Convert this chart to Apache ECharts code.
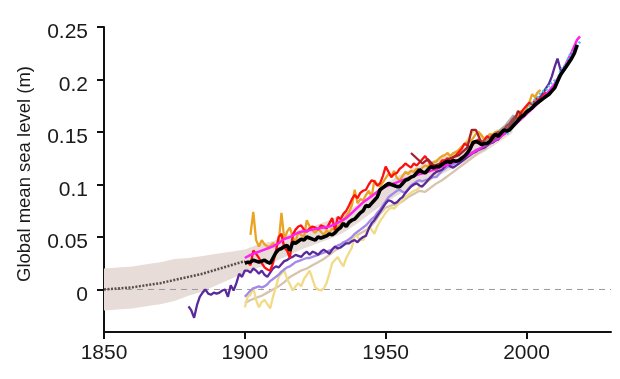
<!DOCTYPE html>
<html>
<head>
<meta charset="utf-8">
<script src="https://cdn.jsdelivr.net/npm/echarts@6/dist/echarts.min.js"></script>
<style>
html,body{margin:0;padding:0;background:#fff;}
#chart{width:620px;height:379px;}
</style>
</head>
<body>
<div id="chart"></div>
<script>
// ---------- DATA ----------
const xTicks = [1850, 1900, 1950, 2000];
const yTicks = [0, 0.05, 0.1, 0.15, 0.2, 0.25];
const yTitle = 'Global mean sea level (m)';

// uncertainty band (years, lower, upper)
const bandYears = [1850,1855,1860,1865,1870,1875,1880,1885,1890,1895,1900,1905,1910,1915,1920,1925,1930,1935,1940,1945,1950,1955,1960,1965,1970,1975,1980,1985,1990,1995];
const bandLower = [-0.020,-0.019,-0.018,-0.016,-0.014,-0.011,-0.006,-0.002,0.004,0.010,0.016,0.021,0.026,0.032,0.038,0.043,0.048,0.054,0.063,0.073,0.083,0.091,0.098,0.105,0.110,0.117,0.124,0.131,0.140,0.149];
const bandUpper = [0.020,0.021,0.022,0.024,0.026,0.029,0.030,0.032,0.034,0.036,0.038,0.043,0.046,0.052,0.058,0.061,0.066,0.072,0.081,0.091,0.101,0.109,0.116,0.121,0.126,0.131,0.138,0.145,0.152,0.161];

// dotted central estimate before 1900
const dotYears = [1850,1855,1860,1865,1870,1875,1880,1885,1890,1895,1900];
const dotVals  = [0.000,0.001,0.002,0.004,0.006,0.009,0.012,0.015,0.019,0.023,0.027];

const zeroYears = [1850, 2030];
const zeroVals = [0, 0];

const blackYears = [];
for (let y = 1900; y <= 2018; y++) blackYears.push(y);
const blackVals = [.025,.026,.026,.028,.027,.026,.027,.028,.026,.025,.030,.035,.038,.039,.041,.042,.037,.045,.044,.046,.048,.047,.050,.049,.048,.047,.050,.049,.050,.051,.053,.052,.054,.057,.059,.063,.060,.064,.066,.067,.070,.073,.075,.080,.079,.082,.085,.088,.095,.097,.099,.101,.100,.099,.098,.098,.101,.104,.105,.107,.108,.111,.114,.112,.111,.114,.117,.116,.117,.117,.119,.121,.122,.121,.123,.122,.123,.125,.127,.130,.134,.140,.141,.140,.138,.139,.139,.141,.145,.148,.146,.149,.152,.151,.152,.155,.158,.161,.164,.166,.169,.171,.173,.176,.178,.180,.182,.184,.186,.189,.192,.198,.204,.208,.212,.216,.220,.225,.233];

const magentaYears = [1900,1902,1904,1906,1908,1910,1912,1914,1916,1918,1920,1922,1924,1926,1928,1930,1932,1934,1936,1938,1940,1942,1944,1946,1948,1950,1952,1954,1956,1958,1960,1962,1964,1966,1968,1970,1972,1974,1976,1978,1980,1982,1984,1986,1988,1990,1992,1994,1996,1998,2000,2002,2004,2006,2008,2010,2012,2014,2016,2018,2019];
const magentaVals = [.030,.033,.035,.037,.039,.041,.044,.048,.050,.053,.055,.056,.057,.058,.059,.060,.062,.065,.068,.073,.078,.083,.087,.091,.095,.098,.100,.102,.104,.106,.108,.110,.111,.113,.115,.117,.119,.121,.123,.126,.129,.132,.135,.138,.141,.144,.148,.152,.157,.162,.167,.172,.177,.183,.189,.196,.205,.215,.226,.238,.241];

const redYears = [];
for (let y = 1901; y <= 2008; y++) redYears.push(y);
const redVals = [.026,.023,.037,.034,.030,.025,.021,.019,.018,.025,.036,.050,.053,.040,.037,.030,.052,.057,.060,.061,.057,.055,.058,.060,.059,.057,.061,.060,.058,.063,.068,.057,.069,.067,.072,.075,.080,.086,.090,.087,.092,.094,.095,.100,.104,.103,.099,.101,.108,.117,.112,.107,.110,.111,.115,.117,.120,.118,.116,.120,.118,.121,.124,.127,.123,.119,.116,.114,.119,.123,.123,.125,.122,.126,.128,.131,.134,.139,.137,.135,.138,.141,.143,.140,.142,.146,.144,.147,.148,.150,.147,.152,.156,.158,.162,.165,.162,.168,.172,.175,.178,.176,.180,.183,.181,.185,.188];

const orangeYears = [];
for (let y = 1902; y <= 2005; y++) orangeYears.push(y);
const orangeVals = [.052,.074,.047,.041,.047,.043,.041,.041,.044,.042,.044,.073,.048,.055,.059,.050,.045,.055,.052,.050,.066,.060,.056,.054,.058,.055,.052,.056,.054,.058,.056,.060,.062,.066,.070,.074,.080,.095,.082,.086,.085,.090,.094,.088,.104,.100,.098,.102,.106,.110,.108,.113,.106,.104,.108,.112,.110,.113,.112,.115,.113,.116,.118,.117,.120,.121,.122,.125,.127,.128,.130,.127,.130,.131,.133,.136,.138,.140,.141,.144,.148,.150,.147,.143,.145,.148,.147,.150,.149,.151,.149,.153,.157,.159,.162,.166,.170,.168,.172,.178,.186,.183,.188,.190];

const purpleYears = [];
for (let y = 1880; y <= 2013; y++) purpleYears.push(y);
const purpleVals = [-.016,-.020,-.027,-.015,-.007,-.003,.000,-.004,-.005,-.003,-.004,-.003,-.001,.000,-.007,.004,-.001,.006,.015,.012,.018,.018,.016,.020,.018,.015,.018,.014,.012,.016,.020,.022,.021,.024,.027,.028,.030,.031,.033,.032,.031,.034,.036,.033,.036,.035,.033,.036,.038,.036,.034,.038,.041,.039,.040,.042,.044,.044,.046,.047,.045,.048,.050,.051,.058,.063,.066,.070,.074,.078,.082,.085,.084,.082,.083,.086,.088,.092,.095,.098,.100,.101,.099,.098,.101,.104,.107,.110,.112,.113,.114,.117,.120,.117,.116,.118,.120,.122,.124,.126,.128,.130,.131,.133,.134,.135,.137,.139,.140,.142,.143,.146,.148,.150,.152,.155,.158,.161,.164,.166,.168,.171,.173,.176,.180,.184,.188,.192,.196,.203,.212,.220,.210,.206];

const lavenderYears = [];
for (let y = 1900; y <= 1990; y++) lavenderYears.push(y);
const lavenderVals = [-.007,-.004,-.001,.001,.002,.003,.002,.003,.005,.008,.010,.012,.014,.017,.019,.021,.022,.024,.026,.027,.028,.029,.030,.030,.031,.032,.033,.034,.035,.036,.037,.038,.040,.042,.043,.045,.046,.048,.050,.053,.055,.057,.059,.061,.064,.067,.069,.073,.076,.080,.084,.088,.090,.092,.094,.095,.093,.092,.096,.099,.101,.103,.104,.103,.104,.105,.106,.107,.107,.110,.113,.115,.117,.118,.119,.121,.122,.124,.126,.128,.130,.131,.133,.134,.135,.136,.137,.139,.140,.142,.143];

const yellowYears = [];
for (let y = 1900; y <= 1990; y++) yellowYears.push(y);
const yellowVals = [-.017,-.007,-.005,.002,-.010,-.017,-.012,-.010,-.014,-.018,-.007,.002,.012,.015,.018,.010,.005,-.001,.003,.006,.003,.010,.014,.018,.010,.002,.000,-.001,.001,.006,.015,.025,.028,.031,.026,.022,.030,.035,.040,.053,.050,.047,.047,.053,.060,.057,.053,.060,.065,.069,.073,.076,.078,.077,.080,.083,.085,.088,.090,.092,.094,.095,.097,.099,.101,.103,.105,.108,.112,.115,.118,.121,.124,.126,.128,.131,.133,.136,.139,.142,.146,.150,.152,.149,.146,.144,.143,.146,.148,.150,.152];

const tanYears = [1900,1902,1904,1906,1908,1910,1912,1914,1916,1918,1920,1922,1924,1926,1928,1930,1932,1934,1936,1938,1940,1942,1944,1946,1948,1950,1952,1954,1956,1958,1960,1962,1964,1966,1968,1970,1972,1974,1976,1978,1980,1982,1984,1986];
const tanVals = [-.013,-.010,-.008,-.006,-.003,.000,.003,.007,.012,.015,.018,.020,.023,.026,.029,.033,.037,.041,.045,.049,.052,.055,.058,.064,.072,.078,.080,.081,.084,.088,.091,.094,.093,.097,.101,.104,.108,.112,.116,.120,.124,.128,.132,.135];

const maroonYears = [1959,1961,1963,1965,1967,1970,1973,1976,1979,1980.5,1982,1984,1986,1988,1990,1992,1994,1996,1997,1999];
const maroonVals = [.130,.125,.120,.124,.118,.120,.125,.128,.135,.152,.152,.140,.138,.142,.145,.148,.155,.163,.170,.165];

const grayYears = [1984,1987,1990,1993,1996];
const grayVals = [.137,.142,.148,.155,.165];

const cyanYears = [1993,1994,1995,1996,1997,1998,1999,2000,2001,2002,2003,2004,2005,2006,2007,2008,2009,2010,2011,2012,2013,2014,2015,2016,2017,2018,2019];
const cyanVals = [.148,.151,.155,.157,.162,.163,.166,.170,.174,.178,.181,.183,.187,.189,.190,.194,.197,.199,.199,.208,.212,.214,.222,.225,.228,.232,.236];

// ---------- BUILD ----------
const zip = (xs, ys) => xs.map((x, i) => [x, ys[i]]);
function lineSeries(name, xs, ys, color, width, extra) {
  return Object.assign({
    name, type: 'line', data: zip(xs, ys), symbol: 'none', silent: true,
    lineStyle: { color, width }, z: 3
  }, extra || {});
}

const chart = echarts.init(document.getElementById('chart'), null, { renderer: 'canvas' });
const FONT = '"Liberation Sans", Arial, Helvetica, sans-serif';

const bandData = bandYears.map((y, i) => [y, bandLower[i], bandUpper[i]]);

const option = {
  animation: false,
  backgroundColor: '#ffffff',
  grid: { left: 104, right: 9, top: 27, bottom: 47, containLabel: false },
  xAxis: {
    type: 'value', min: 1850, max: 2030, interval: 50,
    splitLine: { show: false },
    axisLine: { show: true, onZero: false, lineStyle: { color: '#111', width: 2 } },
    axisTick: { show: true, customValues: xTicks, length: 7, lineStyle: { color: '#111', width: 2 } },
    axisLabel: { customValues: xTicks, margin: 11, color: '#1a1a1a', fontSize: 21, fontFamily: FONT,
      formatter: v => String(v) }
  },
  yAxis: {
    type: 'value', min: -0.0405, max: 0.25,
    splitLine: { show: false },
    axisLine: { show: true, onZero: false, lineStyle: { color: '#111', width: 2 } },
    axisTick: { show: true, customValues: yTicks, length: 7, lineStyle: { color: '#111', width: 2 } },
    axisLabel: { customValues: yTicks, margin: 16, color: '#1a1a1a', fontSize: 21, fontFamily: FONT,
      verticalAlign: 'top', lineHeight: 11,
      formatter: v => (Math.abs(v) < 1e-9 ? '0' : String(Math.round(v * 100) / 100)) }
  },
  graphic: [{
    type: 'text', x: 25, y: 174, rotation: Math.PI / 2,
    style: { text: yTitle, fill: '#1a1a1a', font: '18.5px ' + FONT, textAlign: 'center', textVerticalAlign: 'middle' }
  }],
  series: [
    {
      name: 'band', type: 'custom', data: bandData, silent: true, z: 1,
      encode: { x: 0, y: [1, 2] },
      renderItem: function (params, api) {
        if (params.dataIndex !== 0) return null;
        const pts = [];
        for (let i = 0; i < bandData.length; i++) pts.push(api.coord([bandData[i][0], bandData[i][2]]));
        for (let i = bandData.length - 1; i >= 0; i--) pts.push(api.coord([bandData[i][0], bandData[i][1]]));
        return { type: 'polygon', shape: { points: pts }, style: { fill: '#e7dcd8' } };
      }
    },
    lineSeries('zero', zeroYears, zeroVals, '#9a9a9a', 1, { lineStyle: { color: '#9a9a9a', width: 1, type: [6, 5] }, z: 2 }),
    lineSeries('dotted', dotYears, dotVals, '#5a4e46', 2.5, { lineStyle: { color: '#5a4e46', width: 2.5, type: [2, 1.5] }, z: 2 }),
    lineSeries('tan', tanYears, tanVals, '#d8c3ad', 2.3),
    lineSeries('yellow', yellowYears, yellowVals, '#f1da88', 2.3),
    lineSeries('lavender', lavenderYears, lavenderVals, '#a28ae8', 2.3),
    lineSeries('purple', purpleYears, purpleVals, '#5a2a9c', 2.3),
    lineSeries('orange', orangeYears, orangeVals, '#eaa323', 2.3),
    lineSeries('red', redYears, redVals, '#ff1010', 2.3),
    lineSeries('maroon', maroonYears, maroonVals, '#a3202c', 2.3),
    lineSeries('magenta', magentaYears, magentaVals, '#ff22ee', 2.5),
    lineSeries('gray', grayYears, grayVals, 'rgba(110,110,110,0.55)', 6),
    lineSeries('cyan', cyanYears, cyanVals, '#3cc8ea', 2.5, { lineStyle: { color: '#3cc8ea', width: 2.5, type: [2, 2] } }),
    lineSeries('black', blackYears, blackVals, '#000000', 3.6, { z: 5 })
  ]
};
chart.setOption(option);
</script>
</body>
</html>
